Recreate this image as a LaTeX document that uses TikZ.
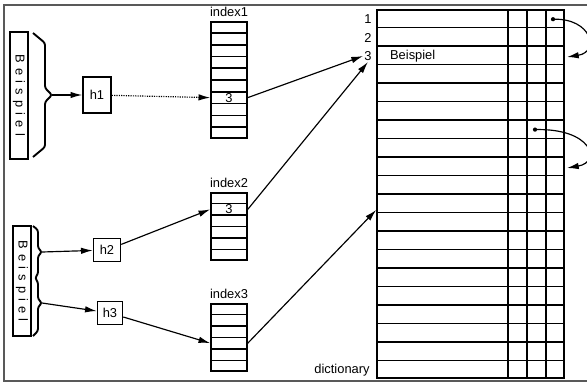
\documentclass[tikz,border=0pt]{standalone}
\usepackage{fontspec}
\setmainfont{Liberation Sans}
\newfontfamily\widefont[LetterSpace=40]{Liberation Sans}
\usetikzlibrary{arrows.meta,calc,positioning}

\begin{document}
\begin{tikzpicture}[x=0.03cm,y=-0.03cm,
    font=\fontsize{11}{13}\selectfont,
    box/.style={draw, line width=1.3pt, inner sep=0pt},
    arr/.style={-{Latex[length=10pt,width=5.5pt]}, line width=1pt},
    grid/.style={line width=1.3pt},
    bracket/.style={line width=1.6pt, rounded corners=2pt}]

    \useasboundingbox (0,0) rectangle (587,383);
    \clip (0,0) rectangle (587,383);

    % Frame
    \draw[black!65, line width=1.6pt] (4,5) rectangle (600,381);

    % Words
    \node[box, rotate=-90, minimum width=3.81cm, minimum height=0.54cm] (wordA) at (19,95.5) {\widefont Beispiel};
    \node[box, rotate=-90, minimum width=3.3cm, minimum height=0.54cm] (wordB) at (22,281) {\widefont Beispiel};

    % Braces
    \draw[bracket] (33,33) -- (45,43) -- (45,88) -- (52,95) -- (45,102) -- (45,147) -- (33,157);
    \coordinate (tipA) at (52,95);
    \draw[bracket] (33,226) -- (38,230) -- (38,248) -- (42,252) -- (38,256) -- (38,274) -- (35,278)
        -- (38,282) -- (38,299) -- (42,303) -- (38,307) -- (38,331) -- (33,336);
    \coordinate (tipB) at (42,252);
    \coordinate (tipC) at (42,303);

    % Hash functions
    \node[box, minimum width=0.84cm, minimum height=1.08cm] (h1) at (97,95) {h1};
    \node[box, minimum width=0.81cm, minimum height=0.69cm] (h2) at (107,250) {h2};
    \node[box, minimum width=0.75cm, minimum height=0.69cm] (h3) at (110,313) {h3};

    % Index tables
    \node[box, minimum width=1.08cm, minimum height=3.48cm] (idxA) at (229,80) {};
    \node[above=0pt of idxA] (idxAlbl) {index1};
    \foreach \i in {1,...,9}
        \draw[grid] ($(idxA.north west)!\i/10!(idxA.south west)$) -- ($(idxA.north east)!\i/10!(idxA.south east)$);
    \coordinate (a7w) at ($(idxA.north west)!0.65!(idxA.south west)$);
    \coordinate (a7e) at ($(idxA.north east)!0.65!(idxA.south east)$);
    \node[inner sep=0pt] (a7) at ($(idxA.north)!0.65!(idxA.south)$) {3};

    \node[box, minimum width=1.08cm, minimum height=2.01cm] (idxB) at (229,226.5) {};
    \node[above=0pt of idxB] (idxBlbl) {index2};
    \foreach \i in {1,...,5}
        \draw[grid] ($(idxB.north west)!\i/6!(idxB.south west)$) -- ($(idxB.north east)!\i/6!(idxB.south east)$);
    \coordinate (b2w) at ($(idxB.north west)!0.25!(idxB.south west)$);
    \coordinate (b2e) at ($(idxB.north east)!0.25!(idxB.south east)$);
    \node[inner sep=0pt] (b2) at ($(idxB.north)!0.25!(idxB.south)$) {3};

    \node[box, minimum width=1.08cm, minimum height=2.01cm] (idxC) at (229,337.5) {};
    \node[above=0pt of idxC] (idxClbl) {index3};
    \foreach \i in {1,...,5}
        \draw[grid] ($(idxC.north west)!\i/6!(idxC.south west)$) -- ($(idxC.north east)!\i/6!(idxC.south east)$);
    \coordinate (c4w) at ($(idxC.north west)!0.583!(idxC.south west)$);
    \coordinate (c4e) at ($(idxC.north east)!0.583!(idxC.south east)$);

    % Dictionary
    \node[box, minimum width=5.61cm, minimum height=11.04cm] (dict) at (470.5,194) {};
    \foreach \i in {1,...,19}
        \draw[grid] ($(dict.north west)!\i/20!(dict.south west)$) -- ($(dict.north east)!\i/20!(dict.south east)$);
    \foreach \x in {508,527,546}
        \draw[grid] (\x,10) -- (\x,378);
    \node[inner sep=1pt] (lbl1) at (368,19.2) {1};
    \node[inner sep=1pt] (lbl2) at (368,37.6) {2};
    \node[inner sep=1pt] (lbl3) at (368,56) {3};
    \node[right] (word) at (386,56) {Beispiel};
    \node (dictlbl) at (342,370) {dictionary};
    \coordinate (dictin) at ($(dict.north west)!0.543!(dict.south west)$);

    % Chain pointers
    \coordinate (p1) at (553,19.2);
    \coordinate (p2) at (535,129.6);
    \coordinate (q1) at (567,57);
    \coordinate (q2) at (567,168);
    \fill (p1) circle (1.8pt);
    \fill (p2) circle (1.8pt);
    \draw[arr] (p1) .. controls (592,18) and (600,52) .. (q1);
    \draw[arr] (p2) .. controls (592,128) and (602,162) .. (q2);

    % Arrows
    \draw[arr] (tipA) -- (h1);
    \draw[arr] (tipB) -- (h2);
    \draw[arr] (tipC) -- (h3);
    \draw[arr, densely dotted] (h1) -- (a7w);
    \draw[arr] (h2) -- (b2w);
    \draw[arr] (h3) -- (c4w);
    \draw[arr] (a7e) -- (lbl3.west);
    \draw[arr] (b2e) -- (lbl3.south);
    \draw[arr] (c4e) -- (dictin);
\end{tikzpicture}
\end{document}
